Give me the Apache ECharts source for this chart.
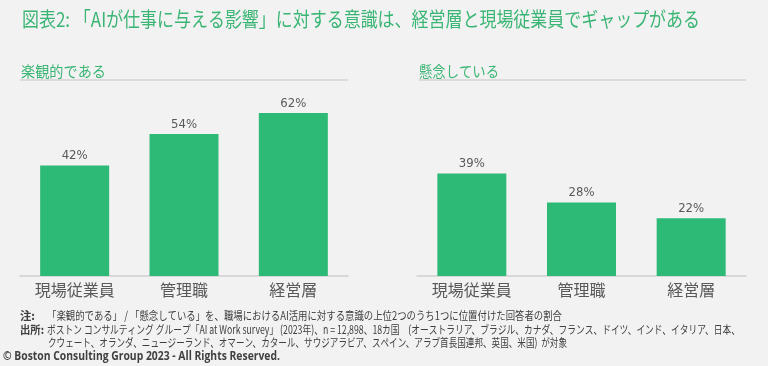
<!DOCTYPE html>
<html>
<head>
<meta charset="utf-8">
<script src="https://cdn.jsdelivr.net/npm/echarts@6/dist/echarts.min.js"></script>
<style>
html,body{margin:0;padding:0;background:#f2f2f2;}
#chart{width:768px;height:366px;}
</style>
</head>
<body>
<div id="chart"></div>
<script>
const categories = ['現場従業員', '管理職', '経営層'];
const optimisticValues = [42, 54, 62];
const concernedValues = [39, 28, 22];
const titleText = '図表2: 「AIが仕事に与える影響」に対する意識は、経営層と現場従業員でギャップがある';
const leftHeader = '楽観的である';
const rightHeader = '懸念している';
const noteLabel = '注:';
const noteText = '「楽観的である」 / 「懸念している」を、職場におけるAI活用に対する意識の上位2つのうち1つに位置付けた回答者の割合';
const sourceLabel = '出所:';
const sourceText1 = 'ボストン コンサルティング グループ「AI at Work survey」 (2023年)、n = 12,898、18カ国　(オーストラリア、ブラジル、カナダ、フランス、ドイツ、インド、イタリア、日本、';
const sourceText2 = 'クウェート、オランダ、ニュージーランド、オマーン、カタール、サウジアラビア、スペイン、アラブ首長国連邦、英国、米国)  が対象';
const copyrightText = '© Boston Consulting Group 2023 - All Rights Reserved.';

const GREEN = '#2dba77';
const TITLE_GREEN = '#3ab574';
const JP = '"Noto Sans CJK JP", "Noto Sans", sans-serif';

const ctx = document.createElement('canvas').getContext('2d');
function fitScale(text, font, width) {
  ctx.font = font;
  const w = ctx.measureText(text).width;
  return w > 0 ? width / w : 1;
}
function fitText(text, x, y, size, weight, color, width, family) {
  const fam = family || JP;
  const font = weight + ' ' + size + 'px ' + fam;
  const s = fitScale(text, font, width);
  return {
    type: 'text', x: x, y: y, scaleX: s, silent: true,
    style: { text: text, fontSize: size, fontWeight: weight, fontFamily: fam, fill: color, textVerticalAlign: 'middle', textAlign: 'left' }
  };
}

const chart = echarts.init(document.getElementById('chart'), null, { renderer: 'canvas' });

function barSeries(data, idx) {
  return {
    type: 'bar', xAxisIndex: idx, yAxisIndex: idx, data: data,
    barWidth: 69,
    itemStyle: { color: GREEN },
    label: {
      show: true, position: 'top', distance: 3,
      formatter: '{c}%', fontSize: 13, color: '#595959',
      fontFamily: '"Liberation Sans Narrow", "DejaVu Sans Condensed", sans-serif'
    }
  };
}
function xAxis(idx) {
  return {
    type: 'category', gridIndex: idx, data: categories,
    axisLine: { lineStyle: { color: '#cfcfcf', width: 1.5 } },
    axisTick: { show: false },
    axisLabel: { fontSize: 16, color: '#595959', fontFamily: JP, margin: 6 }
  };
}
function yAxis(idx) {
  return { type: 'value', gridIndex: idx, min: 0, max: 70, show: false, splitLine: { show: false } };
}

chart.setOption({
  backgroundColor: '#f2f2f2',
  animation: false,
  grid: [
    { left: 20, right: 420, top: 92, bottom: 90 },
    { left: 417, right: 22, top: 92, bottom: 90 }
  ],
  xAxis: [xAxis(0), xAxis(1)],
  yAxis: [yAxis(0), yAxis(1)],
  series: [barSeries(optimisticValues, 0), barSeries(concernedValues, 1)],
  graphic: [
    fitText(titleText, 22, 19.5, 20, 'normal', TITLE_GREEN, 678),
    fitText(leftHeader, 21, 71, 15, 'normal', TITLE_GREEN, 85),
    fitText(rightHeader, 419, 71, 15, 'normal', TITLE_GREEN, 80),
    { type: 'line', silent: true, shape: { x1: 20, y1: 80, x2: 348, y2: 80 }, style: { stroke: '#c4c4c4', lineWidth: 1 } },
    { type: 'line', silent: true, shape: { x1: 419, y1: 80, x2: 746, y2: 80 }, style: { stroke: '#c4c4c4', lineWidth: 1 } },
    fitText(noteLabel, 20, 316, 11.5, 'bold', '#404040', 15),
    fitText(noteText, 47, 316, 11.5, 'normal', '#404040', 515),
    fitText(sourceLabel, 20, 329.5, 11.5, 'bold', '#404040', 24),
    fitText(sourceText1, 47, 329.5, 11.5, 'normal', '#404040', 693),
    fitText(sourceText2, 48, 343, 11.5, 'normal', '#404040', 519),
    fitText(copyrightText, 3, 357, 12, 'bold', '#404040', 277, '"Open Sans", "Liberation Sans", sans-serif')
  ]
});
</script>
</body>
</html>
